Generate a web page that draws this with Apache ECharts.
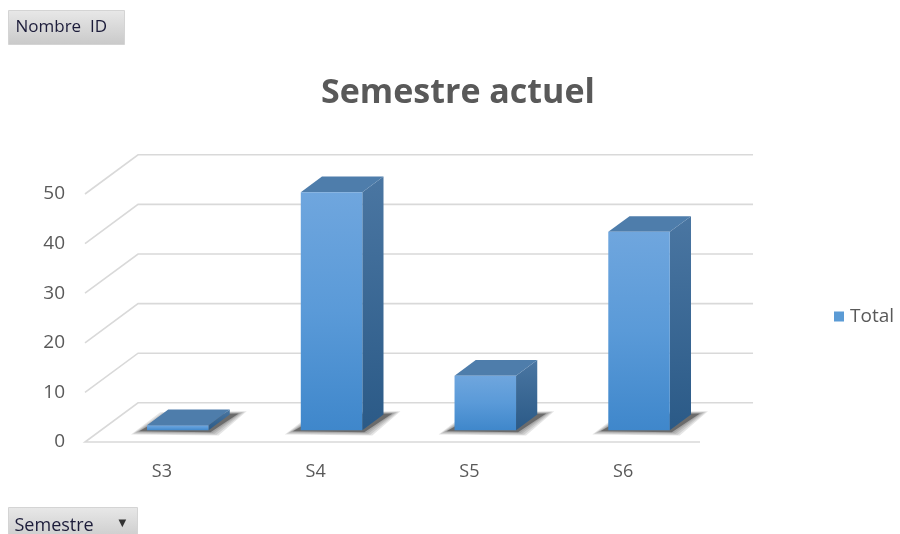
<!DOCTYPE html>
<html>
<head>
<meta charset="utf-8">
<script src="https://cdn.jsdelivr.net/npm/echarts@6/dist/echarts.min.js"></script>
<style>html,body{margin:0;padding:0;background:#fff}#c{width:900px;height:534px}</style>
</head>
<body>
<div id="c"></div>
<script>
const categories = ['S3', 'S4', 'S5', 'S6'];
const totals = [1, 48, 11, 40];
const yTicks = [0, 10, 20, 30, 40, 50];
const seriesName = 'Total';
const titleText = 'Semestre actuel';

const chart = echarts.init(document.getElementById('c'));
const FONT = '"Open Sans", "Noto Sans", sans-serif';
const TXT = '#595959';

// depth of the 3D floor relative to band width / value scale
function depthVec(api) {
  const bw = api.size([1, 0])[0];
  const per10 = api.size([0, 10])[1];
  return [bw * 0.345, -per10 * 0.79];
}

function gridItem(params, api) {
  const v = api.value(1);
  const bw = api.size([1, 0])[0];
  const p0 = api.coord([0, v]);
  const pN = api.coord([categories.length - 1, v]);
  const left = p0[0] - bw / 2, right = pN[0] + bw / 2, y = p0[1];
  const d = depthVec(api);
  let pts = [[left, y], [left + d[0], y + d[1]], [right + d[0], y + d[1]]];
  if (v === 0) pts = [[right, y]].concat(pts);
  return {
    type: 'polyline',
    shape: { points: pts },
    style: { stroke: '#d9d9d9', lineWidth: 1.6, fill: null }
  };
}

function barItem(params, api) {
  const i = api.value(0), v = api.value(1);
  const bw = api.size([1, 0])[0];
  const base = api.coord([i, 0]);
  const top = api.coord([i, v]);
  const d = depthVec(api);
  const w = bw * 0.4;
  const f1 = 0.3, f2 = 0.7;
  const xl = base[0] - w / 2, xr = base[0] + w / 2;
  const fx = d[0] * f1, fy = d[1] * f1, bx = d[0] * f2, by = d[1] * f2;
  const FTL = [xl + fx, top[1] + fy], FTR = [xr + fx, top[1] + fy];
  const FBL = [xl + fx, base[1] + fy], FBR = [xr + fx, base[1] + fy];
  const BTL = [xl + bx, top[1] + by], BTR = [xr + bx, top[1] + by];
  const BBR = [xr + bx, base[1] + by], BBL = [xl + bx, base[1] + by];
  const shadows = [];
  for (let k = 4; k >= 0; k--) {
    const e = k * 2;
    shadows.push({
      type: 'polygon',
      shape: { points: [
        [FBL[0] - 8 - e, FBL[1] + 1 + e * 0.4],
        [FBR[0] + 2 + e, FBR[1] + 2 + e * 0.4],
        [BBR[0] + 9 + e, BBR[1] - 1 - e * 0.3],
        [BBL[0] - e, BBL[1] - e * 0.3]
      ] },
      style: { fill: 'rgba(0,0,0,' + (k === 0 ? 0.35 : 0.1) + ')' }
    });
  }
  return {
    type: 'group',
    children: shadows.concat([
      {
        type: 'polygon',
        shape: { points: [FTR, BTR, BBR, FBR] },
        style: { fill: new echarts.graphic.LinearGradient(0, 0, 0, 1, [
          { offset: 0, color: '#4a76a2' }, { offset: 1, color: '#2b5a87' }]) }
      },
      {
        type: 'polygon',
        shape: { points: [FTL, FTR, BTR, BTL] },
        style: { fill: '#4e7dab' }
      },
      {
        type: 'rect',
        shape: { x: FTL[0], y: FTL[1], width: w, height: FBL[1] - FTL[1] },
        style: { fill: new echarts.graphic.LinearGradient(0, 0, 0, 1, [
          { offset: 0, color: '#6fa6de' }, { offset: 0.5, color: '#5a9ad8' }, { offset: 1, color: '#3f87cb' }]) }
      }
    ])
  };
}

chart.setOption({
  animation: false,
  backgroundColor: '#ffffff',
  title: {
    text: titleText,
    left: 316,
    top: 71,
    textStyle: { fontFamily: FONT, fontSize: 34, fontWeight: 'bold', color: TXT }
  },
  legend: {
    data: [seriesName],
    left: 829,
    top: 302,
    itemWidth: 10,
    itemHeight: 10,
    icon: 'rect',
    textStyle: { fontFamily: FONT, fontSize: 19, color: TXT, padding: [0, 0, 0, 1] }
  },
  grid: { left: 85, right: 200, top: 194, bottom: 92, containLabel: false },
  xAxis: {
    type: 'category',
    data: categories,
    axisLine: { show: false },
    axisTick: { show: false },
    splitLine: { show: false },
    axisLabel: { margin: 21, fontFamily: FONT, fontSize: 18, color: TXT }
  },
  yAxis: {
    type: 'value',
    min: 0, max: 50, interval: 10,
    axisLine: { show: false },
    axisTick: { show: false },
    splitLine: { show: false },
    axisLabel: { margin: 20, fontFamily: FONT, fontSize: 19, color: TXT }
  },
  graphic: [
    {
      type: 'group', left: 8, top: 10,
      children: [
        { type: 'rect', shape: { x: 0, y: 0, width: 116, height: 34 },
          style: { fill: new echarts.graphic.LinearGradient(0, 0, 0, 1, [
            { offset: 0, color: '#e8e8e8' }, { offset: 1, color: '#c9c9c9' }]), stroke: '#d4d4d4' } },
        { type: 'text', x: 7, y: 17, style: { text: 'Nombre  ID', fontFamily: FONT, fontSize: 17, fill: '#1c1c3a', verticalAlign: 'middle' } }
      ]
    },
    {
      type: 'group', left: 8, top: 507,
      children: [
        { type: 'rect', shape: { x: 0, y: 0, width: 129, height: 34 },
          style: { fill: new echarts.graphic.LinearGradient(0, 0, 0, 1, [
            { offset: 0, color: '#e8e8e8' }, { offset: 1, color: '#c9c9c9' }]), stroke: '#d4d4d4' } },
        { type: 'text', x: 6, y: 18, style: { text: 'Semestre', fontFamily: FONT, fontSize: 18, fill: '#1c1c3a', verticalAlign: 'middle' } },
        { type: 'text', x: 110, y: 16, style: { text: '▼', fontFamily: '"DejaVu Sans", sans-serif', fontSize: 10, fill: '#333', verticalAlign: 'middle' } }
      ]
    }
  ],
  series: [
    {
      type: 'custom',
      name: 'grid3d',
      silent: true,
      z: 1,
      renderItem: gridItem,
      data: yTicks.map(v => [0, v])
    },
    {
      type: 'custom',
      name: seriesName,
      z: 2,
      itemStyle: { color: '#5b9bd5' },
      renderItem: barItem,
      data: totals.map((v, i) => [i, v])
    }
  ]
});
</script>
</body>
</html>
